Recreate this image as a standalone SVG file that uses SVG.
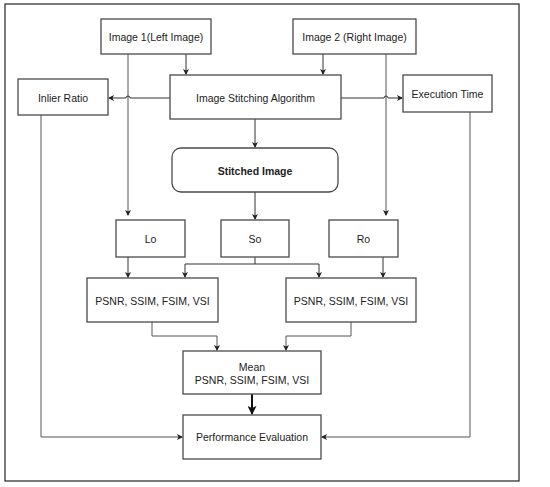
<svg xmlns="http://www.w3.org/2000/svg" width="550" height="487" viewBox="0 0 550 487">
<defs>
<marker id="ah" markerWidth="6" markerHeight="6" refX="5" refY="3" orient="auto" markerUnits="userSpaceOnUse">
<path d="M0,0 L6,3 L0,6 L1.5,3 Z" fill="#222"/>
</marker>
<marker id="ahb" markerWidth="9" markerHeight="9" refX="8" refY="4.5" orient="auto" markerUnits="userSpaceOnUse">
<path d="M0,0 L9,4.5 L0,9 L2,4.5 Z" fill="#111"/>
</marker>
</defs>
<style>
.box{fill:#fff;stroke:#4a4a4a;stroke-width:1.3}
.t{font-family:"Liberation Sans",Arial,sans-serif;font-size:10.5px;fill:#222;text-anchor:middle}
.b{font-weight:bold}
.c{fill:none;stroke:#333;stroke-width:1}
.g{fill:none;stroke:#555;stroke-width:1}
</style>
<rect x="5" y="4" width="514" height="477" fill="#fff" stroke="#222" stroke-width="1.2"/>
<g id="connectors">
<path class="g" d="M128,54 V215" marker-end="url(#ah)"/>
<path class="g" d="M386,54 V215" marker-end="url(#ah)"/>
<path class="c" d="M186,54 V74" marker-end="url(#ah)"/>
<path class="c" d="M323,54 V74" marker-end="url(#ah)"/>
<path class="c" d="M170,98 H130 a2,2 0 0 0 -4,0 H109" marker-end="url(#ah)"/>
<path class="c" d="M341,98 H384 a2,2 0 0 1 4,0 H402" marker-end="url(#ah)"/>
<path class="c" d="M255,119 V147" marker-end="url(#ah)"/>
<path class="c" d="M255,192 V219" marker-end="url(#ah)"/>
<path class="c" d="M128,257 V277" marker-end="url(#ah)"/>
<path class="c" d="M383,257 V277" marker-end="url(#ah)"/>
<path class="c" d="M255,257 V264"/>
<path class="c" d="M185,264 H319"/>
<path class="c" d="M185,264 V277" marker-end="url(#ah)"/>
<path class="c" d="M319,264 V277" marker-end="url(#ah)"/>
<path class="g" d="M152,322 V336 H217 V350" marker-end="url(#ah)"/>
<path class="g" d="M351,322 V336 H286 V350" marker-end="url(#ah)"/>
<path d="M252,394 V414" fill="none" stroke="#111" stroke-width="2" marker-end="url(#ahb)"/>
<path class="g" d="M41,115 V437 H182" marker-end="url(#ah)"/>
<path class="g" d="M470,112 V437 H322" marker-end="url(#ah)"/>
</g>
<g id="img1"><rect class="box" x="101" y="19" width="110" height="35"/><text class="t" x="156" y="41">Image 1(Left Image)</text></g>
<g id="img2"><rect class="box" x="293" y="19" width="123" height="35"/><text class="t" x="354.5" y="41">Image 2 (Right Image)</text></g>
<g id="inlier"><rect class="box" x="18" y="79" width="90" height="36"/><text class="t" x="63" y="101.5">Inlier Ratio</text></g>
<g id="isa"><rect class="box" x="170" y="75" width="171" height="44"/><text class="t" x="255.5" y="101.5">Image Stitching Algorithm</text></g>
<g id="exec"><rect class="box" x="403" y="75" width="89" height="37"/><text class="t" x="447.5" y="97.5">Execution Time</text></g>
<g id="stitched"><rect class="box" x="172" y="148" width="166" height="44" rx="9"/><text class="t b" x="255" y="174.5">Stitched Image</text></g>
<g id="lo"><rect class="box" x="116" y="220" width="69" height="37"/><text class="t" x="150.5" y="242.5">Lo</text></g>
<g id="so"><rect class="box" x="221" y="220" width="68" height="37"/><text class="t" x="255" y="242.5">So</text></g>
<g id="ro"><rect class="box" x="329" y="220" width="69" height="37"/><text class="t" x="363.5" y="242.5">Ro</text></g>
<g id="psnrL"><rect class="box" x="87" y="278" width="131" height="44"/><text class="t" x="152.5" y="304.5">PSNR, SSIM, FSIM, VSI</text></g>
<g id="psnrR"><rect class="box" x="286" y="278" width="130" height="44"/><text class="t" x="351" y="304.5">PSNR, SSIM, FSIM, VSI</text></g>
<g id="mean"><rect class="box" x="183" y="351" width="138" height="43"/><text class="t" x="252" y="370.5">Mean</text><text class="t" x="252" y="384">PSNR, SSIM, FSIM, VSI</text></g>
<g id="perf"><rect class="box" x="183" y="415" width="138" height="44"/><text class="t" x="252" y="440.5">Performance Evaluation</text></g>
</svg>
